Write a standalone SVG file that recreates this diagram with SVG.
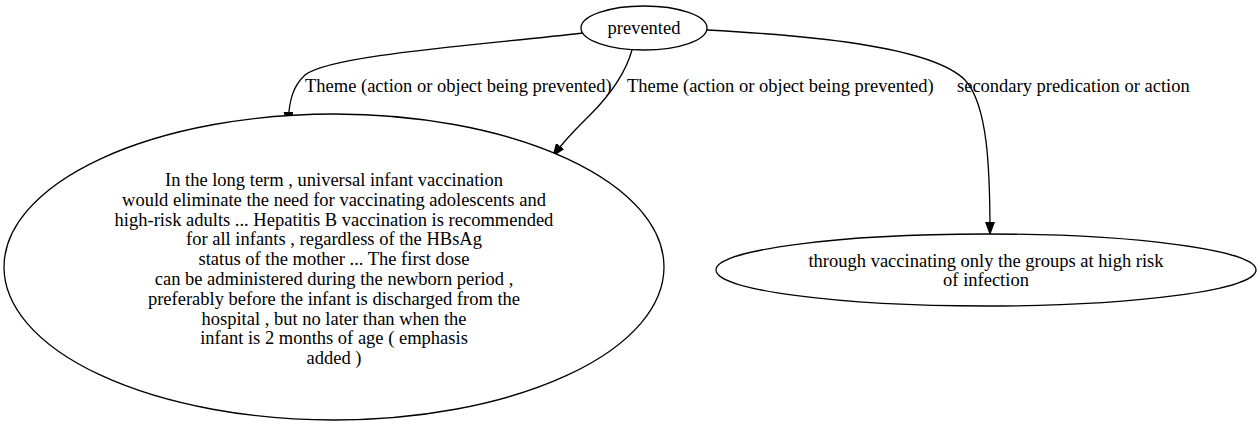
<svg xmlns="http://www.w3.org/2000/svg" width="1260" height="425" viewBox="0 0 1260 425">
<defs>
<style>
text{font-family:"Liberation Serif","Times New Roman",serif;font-size:18.5px;fill:#000}
.n{text-anchor:middle}
ellipse{fill:#fff;stroke:#000;stroke-width:1.3}
.e{fill:none;stroke:#000;stroke-width:1.3}
</style>
<marker id="ah" markerWidth="12" markerHeight="10" refX="12" refY="5" orient="auto" markerUnits="userSpaceOnUse">
<path d="M0,0.5 L12,5 L0,9.5 Z" fill="#000" stroke="#000"/>
</marker>
</defs>
<rect width="1260" height="425" fill="#fff"/>
<g id="edges">
<path class="e" marker-end="url(#ah)" d="M583,33 C480,45 330,55 305,75 C293,86 289,100 288,124"/>
<text x="305" y="92">Theme (action or object being prevented)</text>
<path class="e" marker-end="url(#ah)" d="M632,50 C625,75 610,95 590,115 C580,125 566,138 553,156"/>
<text x="627" y="92">Theme (action or object being prevented)</text>
<path class="e" marker-end="url(#ah)" d="M707,30 C800,35 930,45 965,80 C988,105 990,170 990,234"/>
<text x="957" y="92">secondary predication or action</text>
</g>
<g id="node-prevented">
<ellipse cx="644" cy="28" rx="63" ry="22"/>
<text class="n" x="644" y="34">prevented</text>
</g>
<g id="node-long">
<ellipse cx="334" cy="267" rx="330" ry="153"/>
<text class="n" x="334" y="186">In the long term , universal infant vaccination</text>
<text class="n" x="334" y="205.8">would eliminate the need for vaccinating adolescents and</text>
<text class="n" x="334" y="225.6">high-risk adults ... Hepatitis B vaccination is recommended</text>
<text class="n" x="334" y="245.4">for all infants , regardless of the HBsAg</text>
<text class="n" x="334" y="265.2">status of the mother ... The first dose</text>
<text class="n" x="334" y="285">can be administered during the newborn period ,</text>
<text class="n" x="334" y="304.8">preferably before the infant is discharged from the</text>
<text class="n" x="334" y="324.6">hospital , but no later than when the</text>
<text class="n" x="334" y="344.4">infant is 2 months of age ( emphasis</text>
<text class="n" x="334" y="364.2">added )</text>
</g>
<g id="node-through">
<ellipse cx="986" cy="270" rx="270" ry="36"/>
<text class="n" x="986" y="267">through vaccinating only the groups at high risk</text>
<text class="n" x="986" y="286">of infection</text>
</g>
</svg>
